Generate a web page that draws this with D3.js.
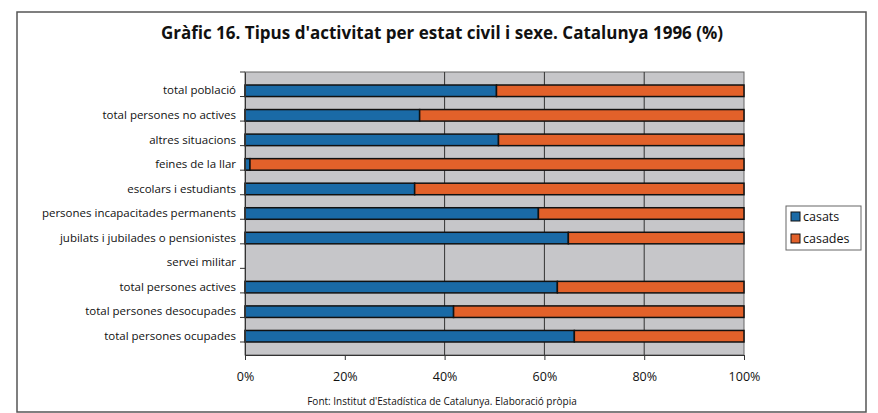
<!DOCTYPE html>
<html>
<head>
<meta charset="utf-8">
<script src="https://cdn.jsdelivr.net/npm/d3@7"></script>
<style>
  body { margin: 0; background: #fff; }
  text { font-family: "Open Sans", "Noto Sans", sans-serif; fill: #111; }
</style>
</head>
<body>
<div id="chart"></div>
<script>
// categories, top to bottom
var categories = [
  "total població",
  "total persones no actives",
  "altres situacions",
  "feines de la llar",
  "escolars i estudiants",
  "persones incapacitades permanents",
  "jubilats i jubilades o pensionistes",
  "servei militar",
  "total persones actives",
  "total persones desocupades",
  "total persones ocupades"
];
// share of each group (%), casats + casades = 100 (servei militar empty)
var casats  = [50.4, 35.0, 50.8, 1.0, 34.0, 58.8, 64.8, 0, 62.6, 41.8, 66.0];
var casades = [49.6, 65.0, 49.2, 99.0, 66.0, 41.2, 35.2, 0, 37.4, 58.2, 34.0];
var seriesNames = ["casats", "casades"];
var xTicks = [0, 20, 40, 60, 80, 100];
var gridTicks = [40, 60, 80];

var W = 878, H = 413;
var margin = {top: 72, right: 134, bottom: 58, left: 245},
    width = W - margin.left - margin.right,
    height = H - margin.top - margin.bottom;

var colors = {casats: "#1a6aa6", casades: "#e2612a"};

var svg = d3.select("#chart").append("svg")
    .attr("width", W)
    .attr("height", H);

// outer frame
svg.append("rect")
    .attr("x", 17).attr("y", 12)
    .attr("width", 849).attr("height", 400)
    .attr("fill", "#fff")
    .attr("stroke", "#555")
    .attr("stroke-width", 1.5);

svg.append("text")
    .attr("x", 442).attr("y", 39)
    .attr("text-anchor", "middle")
    .style("font-size", "17px")
    .style("font-weight", "bold")
    .text("Gràfic 16. Tipus d'activitat per estat civil i sexe. Catalunya 1996 (%)");

var g = svg.append("g")
    .attr("transform", "translate(" + margin.left + "," + margin.top + ")");

var x = d3.scaleLinear().domain([0, 100]).range([0, width]);
var y = d3.scaleBand().domain(categories).range([0, height]).padding(0.53);

// plot background
g.append("rect")
    .attr("width", width).attr("height", height)
    .attr("fill", "#c6c6c9")
    .attr("stroke", "#666");

// gridlines
g.selectAll(".grid")
    .data(gridTicks)
  .enter().append("line")
    .attr("x1", function(d) { return x(d); })
    .attr("x2", function(d) { return x(d); })
    .attr("y1", 0).attr("y2", height)
    .attr("stroke", "#333")
    .attr("stroke-width", 1);

var rows = categories.map(function(c, i) {
  return {name: c, casats: casats[i], casades: casades[i]};
});
var stacked = d3.stack().keys(seriesNames)(rows);

g.selectAll(".series")
    .data(stacked)
  .enter().append("g")
    .attr("fill", function(d) { return colors[d.key]; })
  .selectAll("rect")
    .data(function(d) { return d.filter(function(p) { return p[1] - p[0] > 0; }); })
  .enter().append("rect")
    .attr("x", function(d) { return x(d[0]); })
    .attr("width", function(d) { return x(d[1]) - x(d[0]); })
    .attr("y", function(d) { return y(d.data.name); })
    .attr("height", y.bandwidth())
    .attr("stroke", "#111")
    .attr("stroke-width", 1.5);

// y axis: ticks between categories
var yAxis = g.append("g")
    .call(d3.axisLeft(y).tickSize(0).tickPadding(9));
yAxis.select(".domain").attr("stroke", "#333");
yAxis.selectAll("text").style("font-size", "11.5px").attr("fill", "#111");
g.selectAll(".ysep")
    .data(d3.range(categories.length + 1))
  .enter().append("line")
    .attr("x1", -5).attr("x2", 0)
    .attr("y1", function(i) { return i * y.step(); })
    .attr("y2", function(i) { return i * y.step(); })
    .attr("stroke", "#333");

var xAxis = g.append("g")
    .attr("transform", "translate(0," + height + ")")
    .call(d3.axisBottom(x).tickValues(xTicks)
      .tickFormat(function(d) { return d + "%"; })
      .tickSize(5).tickPadding(12));
xAxis.select(".domain").attr("stroke", "#333");
xAxis.selectAll("line").attr("stroke", "#333");
xAxis.selectAll("text").style("font-size", "12.5px").attr("fill", "#111");

// legend
var legend = svg.append("g").attr("transform", "translate(786,206)");
legend.append("rect")
    .attr("width", 75).attr("height", 44)
    .attr("fill", "#fff")
    .attr("stroke", "#666");
var items = legend.selectAll(".item")
    .data(seriesNames)
  .enter().append("g")
    .attr("transform", function(d, i) { return "translate(5," + (11 + i * 22) + ")"; });
items.append("rect")
    .attr("x", 0).attr("y", -5)
    .attr("width", 9).attr("height", 9)
    .attr("fill", function(d) { return colors[d]; })
    .attr("stroke", "#111");
items.append("text")
    .attr("x", 12).attr("y", 4)
    .style("font-size", "12.5px")
    .text(function(d) { return d; });

svg.append("text")
    .attr("x", 442).attr("y", 405)
    .attr("text-anchor", "middle")
    .style("font-size", "10px")
    .text("Font: Institut d'Estadística de Catalunya. Elaboració pròpia");
</script>
</body>
</html>
